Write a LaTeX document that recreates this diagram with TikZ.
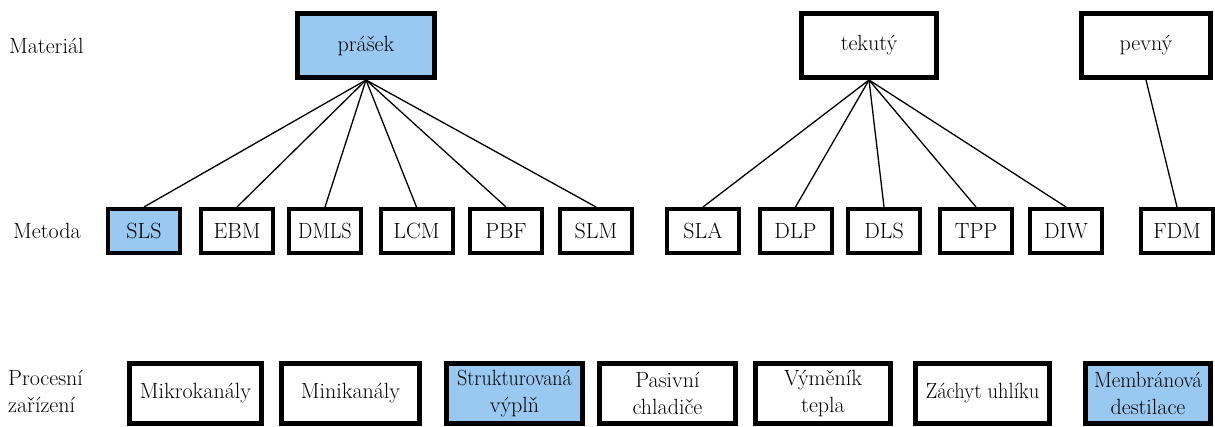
\documentclass[tikz,border=0pt]{standalone}
\usepackage{fontspec}
\usepackage{graphicx}
\definecolor{boxblue}{RGB}{153,201,240}
\newcommand{\squeeze}[2]{\scalebox{#1}[1]{#2}}
\begin{document}
\begin{tikzpicture}[x=1pt,y=-1pt,
  font=\fontsize{22}{27}\selectfont,
  topbox/.style={draw=black,line width=5pt,inner sep=0pt,minimum width=137pt,minimum height=64pt,fill=white},
  midbox/.style={draw=black,line width=4pt,inner sep=0pt,minimum width=72pt,minimum height=44pt,fill=white},
  botbox/.style={draw=black,line width=5pt,inner sep=0pt,minimum height=60pt,align=center,fill=white},
  hl/.style={fill=boxblue},
  rowlabel/.style={anchor=west,inner sep=0pt,align=left},
  conn/.style={line width=1.3pt}]
\useasboundingbox (0,0) rectangle (1215,427);
% row labels
\node[rowlabel] (lmat) at (9,45.5) {Materiál};
\node[rowlabel] (lmet) at (13,231) {Metoda};
\node[rowlabel] (lproc) at (8,391) {Procesní\\zařízení};
% top row
\node[topbox,hl] (pr) at (366,45.5) {prášek};
\node[topbox,minimum width=135pt] (te) at (869,45.5) {tekutý};
\node[topbox,minimum width=129pt] (pe) at (1146,45.5) {pevný};
% middle row
\node[midbox,hl] (sls) at (144,231) {SLS};
\node[midbox] (ebm) at (237,231) {EBM};
\node[midbox] (dmls) at (325,231) {\squeeze{0.92}{DMLS}};
\node[midbox] (lcm) at (416.5,231) {LCM};
\node[midbox] (pbf) at (506,231) {PBF};
\node[midbox] (slm) at (596,231) {SLM};
\node[midbox] (sla) at (703,231) {SLA};
\node[midbox] (dlp) at (795.5,231) {DLP};
\node[midbox] (dls) at (884,231) {DLS};
\node[midbox] (tpp) at (976,231) {TPP};
\node[midbox] (diw) at (1066,231) {DIW};
\node[midbox] (fdm) at (1177,231) {FDM};
% connectors
\foreach \m in {sls,ebm,dmls,lcm,pbf,slm}
  \draw[conn] (pr.south) -- (\m.north);
\foreach \m in {sla,dlp,dls,tpp,diw}
  \draw[conn] (te.south) -- (\m.north);
\draw[conn] (pe.south) -- (fdm.north);
% bottom row
\node[botbox,minimum width=132pt] (mik) at (195.5,393.5) {Mikrokanály};
\node[botbox,minimum width=138pt] (min) at (350.5,393.5) {Minikanály};
\node[botbox,hl,minimum width=136pt] (str) at (514.5,393.5) {\squeeze{0.91}{Strukturovaná}\\výplň};
\node[botbox,minimum width=136pt] (pas) at (667.5,393.5) {Pasivní\\chladiče};
\node[botbox,minimum width=135pt] (vym) at (823,393.5) {Výměník\\tepla};
\node[botbox,minimum width=134pt] (zach) at (982.5,393.5) {\squeeze{0.93}{Záchyt uhlíku}};
\node[botbox,hl,minimum width=125pt] (mem) at (1148,393.5) {\squeeze{0.95}{Membránová}\\destilace};
\end{tikzpicture}
\end{document}
